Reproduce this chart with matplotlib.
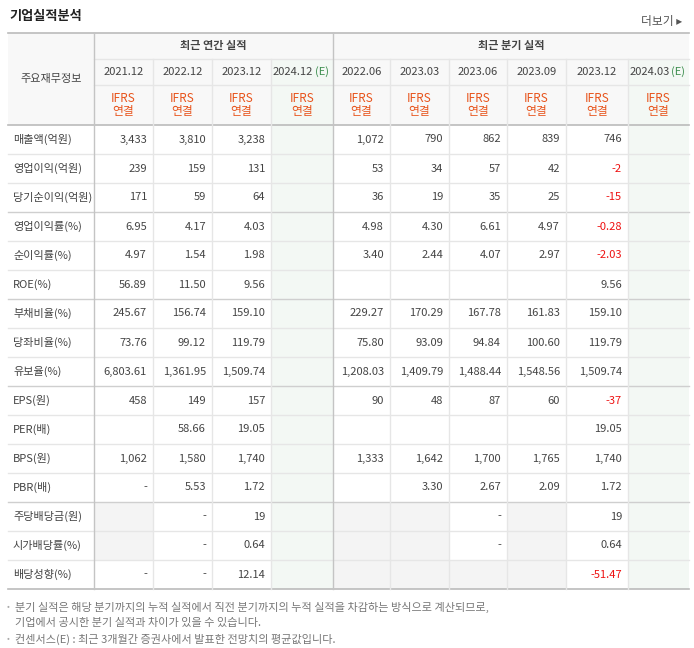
import matplotlib
matplotlib.use("Agg")
import matplotlib.pyplot as plt
from matplotlib.patches import Rectangle
from matplotlib import font_manager

names = sorted({f.name for f in font_manager.fontManager.ttflist if "CJK" in f.name})
pref = [n for n in names if "KR" in n] + [n for n in names if "KR" not in n]
plt.rcParams["font.family"] = pref + ["DejaVu Sans"]

title = "기업실적분석"
more = "더보기"
label_header = "주요재무정보"
annual_title = "최근 연간 실적"
quarter_title = "최근 분기 실적"
periods = ["2021.12", "2022.12", "2023.12", "2024.12", "2022.06", "2023.03", "2023.06", "2023.09", "2023.12", "2024.03"]
estimate = [False, False, False, True, False, False, False, False, False, True]
row_labels = ["매출액(억원)", "영업이익(억원)", "당기순이익(억원)", "영업이익률(%)", "순이익률(%)", "ROE(%)",
              "부채비율(%)", "당좌비율(%)", "유보율(%)", "EPS(원)", "PER(배)", "BPS(원)", "PBR(배)",
              "주당배당금(원)", "시가배당률(%)", "배당성향(%)"]
N = None
values = [
    ["3,433", "3,810", "3,238", N, "1,072", "790", "862", "839", "746", N],
    ["239", "159", "131", N, "53", "34", "57", "42", "-2", N],
    ["171", "59", "64", N, "36", "19", "35", "25", "-15", N],
    ["6.95", "4.17", "4.03", N, "4.98", "4.30", "6.61", "4.97", "-0.28", N],
    ["4.97", "1.54", "1.98", N, "3.40", "2.44", "4.07", "2.97", "-2.03", N],
    ["56.89", "11.50", "9.56", N, N, N, N, N, "9.56", N],
    ["245.67", "156.74", "159.10", N, "229.27", "170.29", "167.78", "161.83", "159.10", N],
    ["73.76", "99.12", "119.79", N, "75.80", "93.09", "94.84", "100.60", "119.79", N],
    ["6,803.61", "1,361.95", "1,509.74", N, "1,208.03", "1,409.79", "1,488.44", "1,548.56", "1,509.74", N],
    ["458", "149", "157", N, "90", "48", "87", "60", "-37", N],
    [N, "58.66", "19.05", N, N, N, N, N, "19.05", N],
    ["1,062", "1,580", "1,740", N, "1,333", "1,642", "1,700", "1,765", "1,740", N],
    ["-", "5.53", "1.72", N, N, "3.30", "2.67", "2.09", "1.72", N],
    [N, "-", "19", N, N, N, "-", N, "19", N],
    [N, "-", "0.64", N, N, N, "-", N, "0.64", N],
    ["-", "-", "12.14", N, N, N, N, N, "-51.47", N],
]
dividend_rows = [13, 14, 15]
group_ends = [2, 5, 8, 12]
notes = ["분기 실적은 해당 분기까지의 누적 실적에서 직전 분기까지의 누적 실적을 차감하는 방식으로 계산되므로,",
         "기업에서 공시한 분기 실적과 차이가 있을 수 있습니다.",
         "컨센서스(E) : 최근 3개월간 증권사에서 발표한 전망치의 평균값입니다."]

W, H = 694, 648
fig = plt.figure(figsize=(W / 100, H / 100), dpi=100)
ax = fig.add_axes([0, 0, 1, 1])
ax.set_xlim(0, W)
ax.set_ylim(H, 0)
ax.axis("off")

xs = [8, 94, 153, 212, 271, 333, 390, 449, 507, 566, 628, 689]
y_top, y_r1, y_r2, y_r3 = 33, 59, 85, 125
rh = 29
grid = "#e6e6e6"
hdr_bg = "#f8f8f8"
green = "#f3f8f4"
gray_cell = "#f4f4f4"
txt = "#444444"
orange = "#e8541c"
red = "#ee1111"
fs = 8
y_end = y_r3 + rh * len(row_labels)

ax.add_patch(Rectangle((xs[0], y_top), xs[-1] - xs[0], y_r3 - y_top, color=hdr_bg, lw=0))
for j, e in enumerate(estimate):
    if e:
        ax.add_patch(Rectangle((xs[j + 1], y_r1), xs[j + 2] - xs[j + 1], y_end - y_r1, color=green, lw=0))
for i in dividend_rows:
    for j in range(len(periods)):
        if values[i][j] is None and not estimate[j]:
            y0 = y_r3 + rh * i
            ax.add_patch(Rectangle((xs[j + 1], y0), xs[j + 2] - xs[j + 1], rh, color=gray_cell, lw=0))

ax.plot([xs[0], xs[-1]], [y_top, y_top], color="#bbbbbb", lw=1.2)
ax.plot([xs[1], xs[-1]], [y_r1, y_r1], color=grid, lw=1)
ax.plot([xs[1], xs[-1]], [y_r2, y_r2], color=grid, lw=1)
ax.plot([xs[0], xs[-1]], [y_r3, y_r3], color="#bbbbbb", lw=1.2)
for i in range(1, len(row_labels)):
    y = y_r3 + rh * i
    c = "#cfcfcf" if (i - 1) in group_ends else grid
    ax.plot([xs[0], xs[-1]], [y, y], color=c, lw=1)
ax.plot([xs[0], xs[-1]], [y_end, y_end], color="#bbbbbb", lw=1.2)
for k, x in enumerate(xs[1:-1], start=1):
    if k in (1, 5):
        ax.plot([x, x], [y_top, y_end], color="#c4c4c4", lw=1)
    else:
        ax.plot([x, x], [y_r1, y_end], color=grid, lw=1)

ax.text(9, 16, title, fontsize=9.5, fontweight="bold", color="#222222", va="center")
ax.text(682, 22, more + " ▸", fontsize=8.5, color="#555555", va="center", ha="right")
ax.text((xs[0] + xs[1]) / 2, (y_top + y_r3) / 2, label_header, fontsize=fs, color=txt, ha="center", va="center")
ax.text((xs[1] + xs[5]) / 2, (y_top + y_r1) / 2, annual_title, fontsize=fs, color=txt, ha="center", va="center", fontweight="bold")
ax.text((xs[5] + xs[-1]) / 2, (y_top + y_r1) / 2, quarter_title, fontsize=fs, color=txt, ha="center", va="center", fontweight="bold")

for j, p in enumerate(periods):
    cx = (xs[j + 1] + xs[j + 2]) / 2
    yc = (y_r1 + y_r2) / 2
    if estimate[j]:
        ax.text(cx - 9, yc, p, fontsize=fs, color=txt, ha="center", va="center")
        ax.text(cx + 20, yc, "(E)", fontsize=fs, color="#3d8f4f", ha="center", va="center")
    else:
        ax.text(cx, yc, p, fontsize=fs, color=txt, ha="center", va="center")
    ax.text(cx, 98, "IFRS", fontsize=8.5, color=orange, ha="center", va="center")
    ax.text(cx, 112, "연결", fontsize=8.5, color=orange, ha="center", va="center")

for i, lab in enumerate(row_labels):
    yc = y_r3 + rh * i + rh / 2
    ax.text(13, yc, lab, fontsize=fs, color=txt, ha="left", va="center")
    for j in range(len(periods)):
        v = values[i][j]
        if v is None:
            continue
        c = red if (v.startswith("-") and len(v) > 1) else txt
        ax.text(xs[j + 2] - 6, yc, v, fontsize=fs, color=c, ha="right", va="center")

ax.text(7, 607, "•", fontsize=6, color="#aaaaaa", va="center")
ax.text(15, 607, notes[0], fontsize=fs, color="#777777", va="center")
ax.text(15, 623, notes[1], fontsize=fs, color="#777777", va="center")
ax.text(7, 639, "•", fontsize=6, color="#aaaaaa", va="center")
ax.text(15, 639, notes[2], fontsize=fs, color="#777777", va="center")

fig.savefig("out.png", dpi=100)
